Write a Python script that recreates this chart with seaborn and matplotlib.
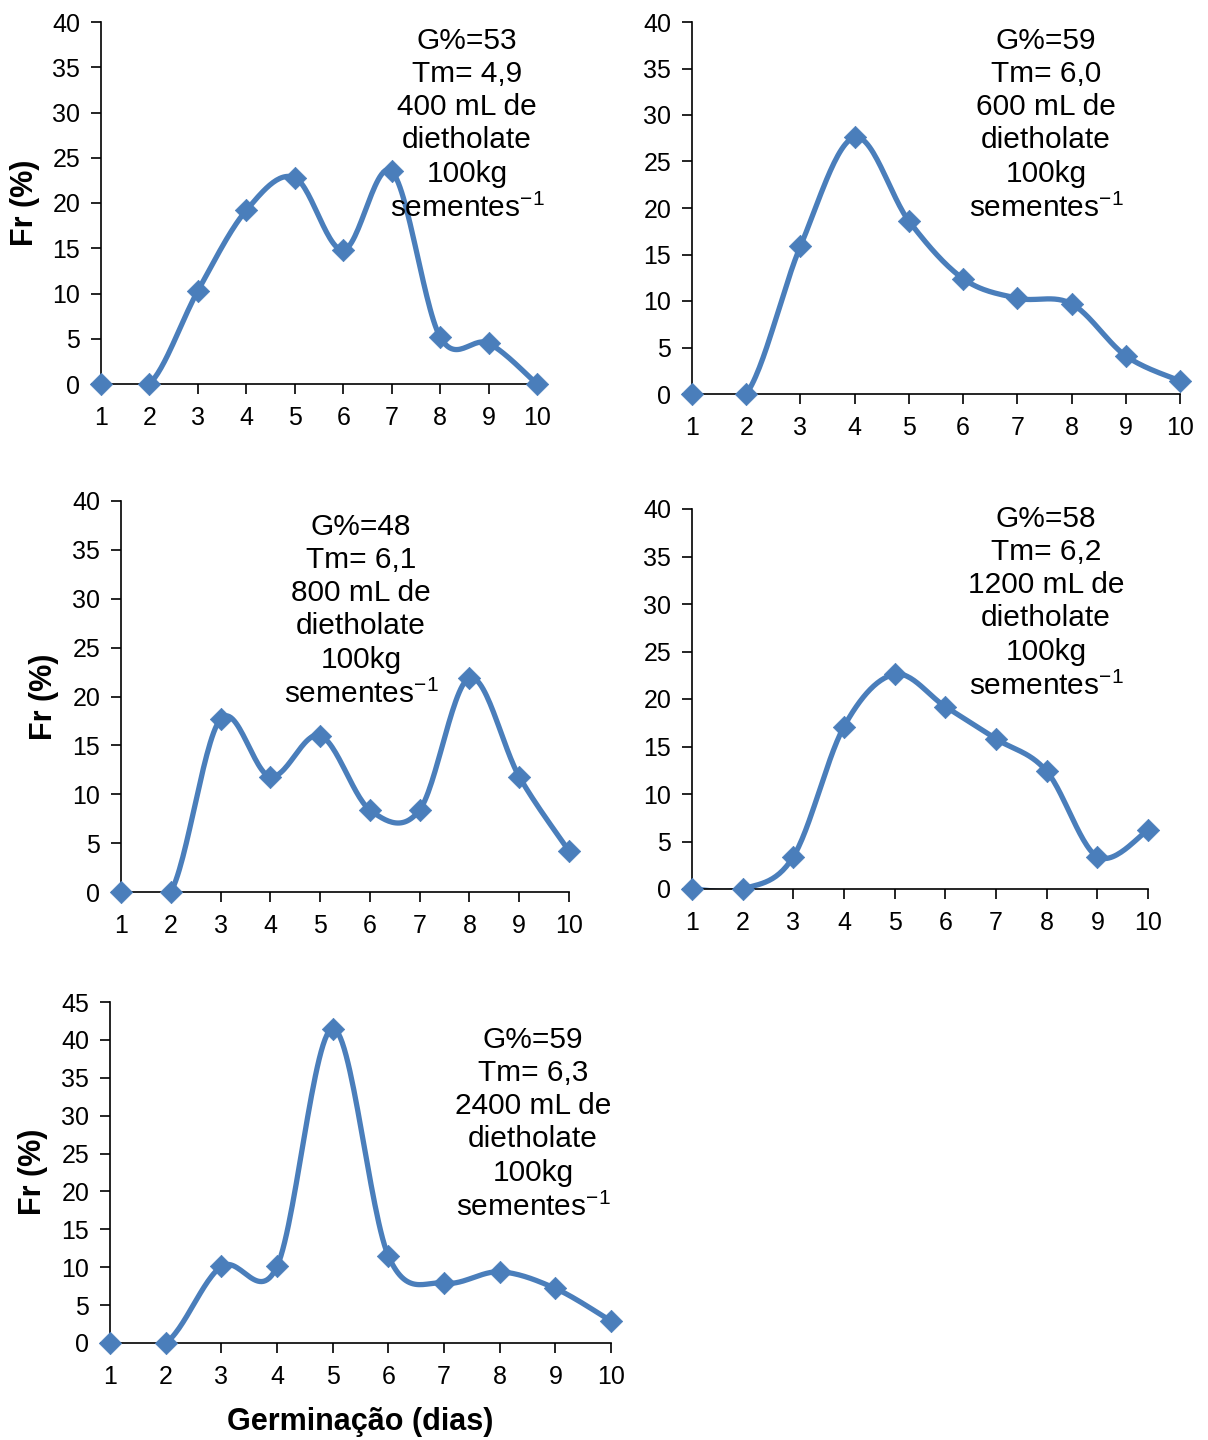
import numpy as np
import pandas as pd
import seaborn as sns
import matplotlib
matplotlib.use("Agg")
import matplotlib.pyplot as plt

sns.set_style("white")
plt.rcParams['font.family'] = ['Liberation Sans', 'DejaVu Sans']
plt.rcParams['mathtext.fontset'] = 'custom'
plt.rcParams['mathtext.rm'] = 'Liberation Sans'
plt.rcParams['text.color'] = 'black'

dias = [1, 2, 3, 4, 5, 6, 7, 8, 9, 10]
fr_400 = [0, 0, 10.3, 19.2, 22.8, 14.8, 23.5, 5.2, 4.5, 0]
fr_600 = [0, 0, 15.9, 27.6, 18.6, 12.4, 10.3, 9.7, 4.1, 1.4]
fr_800 = [0, 0, 17.7, 11.8, 16.0, 8.4, 8.4, 21.9, 11.8, 4.2]
fr_1200 = [0, 0, 3.4, 17.1, 22.6, 19.2, 15.8, 12.4, 3.4, 6.2]
fr_2400 = [0, 0, 10.1, 10.1, 41.5, 11.5, 7.9, 9.4, 7.2, 2.9]

g_pct = [53, 59, 48, 58, 59]
tm = ["4,9", "6,0", "6,1", "6,2", "6,3"]
doses = [400, 600, 800, 1200, 2400]

W, H = 1208, 1440
COR = "#4A7EBB"

# (left, right, top, bottom) in pixels, annotation centre (x, y), ylabel pos
paineis = [
    dict(y=fr_400, box=(101, 537, 22, 384), ymax=40, txt=(467, 125), ylab=(25, 203)),
    dict(y=fr_600, box=(692, 1180, 22, 394), ymax=40, txt=(1046, 125), ylab=None),
    dict(y=fr_800, box=(121, 569, 501, 892), ymax=40, txt=(361, 611), ylab=(44, 697)),
    dict(y=fr_1200, box=(692, 1148, 509, 889), ymax=40, txt=(1046, 603), ylab=None),
    dict(y=fr_2400, box=(110, 611, 1002, 1343), ymax=45, txt=(533, 1124), ylab=(33, 1172)),
]


def suaviza(x, y, n=30):
    # curva suavizada estilo Excel (Catmull-Rom)
    x = np.asarray(x, float)
    y = np.asarray(y, float)
    px = np.concatenate([[x[0]], x, [x[-1]]])
    py = np.concatenate([[y[0]], y, [y[-1]]])
    xs, ys = [], []
    for i in range(1, len(px) - 2):
        p0, p1, p2, p3 = [np.array([px[j], py[j]]) for j in (i - 1, i, i + 1, i + 2)]
        c1 = p1 + (p2 - p0) / 6
        c2 = p2 - (p3 - p1) / 6
        t = np.linspace(0, 1, n)[:, None]
        b = ((1 - t) ** 3) * p1 + 3 * ((1 - t) ** 2) * t * c1 + 3 * (1 - t) * t ** 2 * c2 + t ** 3 * p2
        xs.extend(b[:, 0])
        ys.extend(b[:, 1])
    return pd.DataFrame({'x': xs, 'y': ys})


fig = plt.figure(figsize=(W / 100, H / 100), dpi=100)

for k, p in enumerate(paineis):
    l, r, t, b = p['box']
    ax = fig.add_axes([l / W, 1 - b / H, (r - l) / W, (b - t) / H])
    curva = suaviza(dias, p['y'])
    sns.lineplot(data=curva, x='x', y='y', ax=ax, color=COR, linewidth=3.8,
                 sort=False, estimator=None)
    sns.scatterplot(x=dias, y=p['y'], ax=ax, marker='D', s=130, color=COR,
                    edgecolor=COR, linewidth=0.5, clip_on=False, zorder=5)
    ax.set_xlim(1, 10)
    ax.set_ylim(0, p['ymax'])
    ax.set_xticks(dias)
    ax.set_yticks(np.arange(0, p['ymax'] + 1, 5))
    sns.despine(ax=ax)
    for s in ('left', 'bottom'):
        ax.spines[s].set_linewidth(1.2)
        ax.spines[s].set_color('black')
    ax.tick_params(axis='both', direction='out', length=7, width=1.2,
                   labelsize=18, colors='black', left=True, bottom=True)
    ax.tick_params(axis='x', pad=9)
    ax.tick_params(axis='y', pad=8)
    ax.set_xlabel('')
    ax.set_ylabel('')

    texto = ("G%=" + str(g_pct[k]) + "\nTm= " + tm[k] + "\n" + str(doses[k]) +
             " mL de\ndietholate\n100kg\nsementes$^{-1}$")
    tx, ty = p['txt']
    fig.text(tx / W, 1 - ty / H, texto, ha='center', va='center', fontsize=21.5,
             linespacing=1.24, color='black')
    if p['ylab'] is not None:
        yx, yy = p['ylab']
        fig.text(yx / W, 1 - yy / H, "Fr (%)", rotation=90, ha='center', va='center',
                 fontsize=22, fontweight='bold', color='black')

fig.text(360 / W, 1 - 1422 / H, "Germinação (dias)", ha='center', va='center',
         fontsize=22, fontweight='bold', color='black')

fig.savefig("out.png", dpi=100)
